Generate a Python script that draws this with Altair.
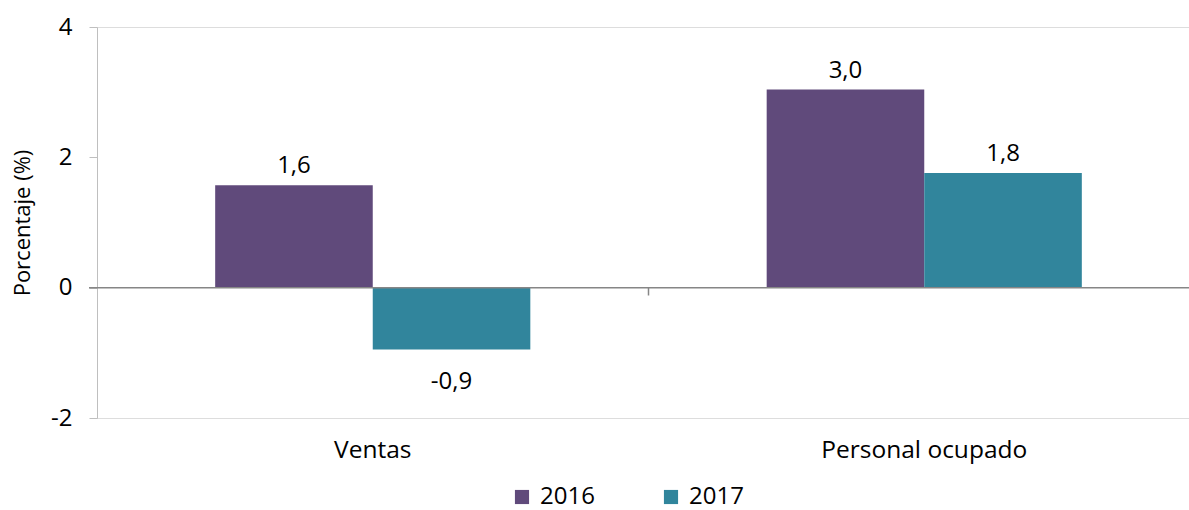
import altair as alt
import pandas as pd

categories = ["Ventas", "Ventas", "Personal ocupado", "Personal ocupado"]
years = ["2016", "2017", "2016", "2017"]
values = [1.57, -0.95, 3.04, 1.76]
labels = ["1,6", "-0,9", "3,0", "1,8"]
cat_order = ["Ventas", "Personal ocupado"]
y_ticks = [-2, 0, 2, 4]

df = pd.DataFrame({"cat": categories, "year": years, "value": values, "label": labels})
df["pos"] = df["value"] >= 0

FONT = "Open Sans"
FS = 24

xenc = alt.X("cat:N", sort=cat_order, title=None,
             scale=alt.Scale(domain=cat_order, range=[0, 1103], paddingInner=0, paddingOuter=0),
             axis=alt.Axis(domain=False, ticks=False, labelAngle=0, labelFontSize=24.5,
                           labelFont=FONT, labelColor="#000000", labelPadding=20, labelLimit=0))
yscale = alt.Scale(domain=[-2, 4], nice=False, zero=False)
yenc = alt.Y("value:Q", scale=yscale, title="Porcentaje (%)",
             axis=alt.Axis(values=y_ticks, grid=False, domainColor="#BFBFBF",
                           labelExpr="datum.value < 0 ? '-' + format(-datum.value, 'd') : format(datum.value, 'd')",
                           tickColor="#BFBFBF", tickSize=8, labelFontSize=FS, labelFont=FONT,
                           labelColor="#000000", labelPadding=17, titleFontSize=22,
                           titleFont=FONT, titleFontWeight="normal", titleColor="#000000",
                           titlePadding=16))
xoff = alt.XOffset("year:N", scale=alt.Scale(paddingInner=0, paddingOuter=0.75))

base = alt.Chart(df)

bars = base.mark_bar().encode(
    x=xenc, xOffset=xoff, y=yenc,
    color=alt.Color("year:N", scale=alt.Scale(domain=["2016", "2017"], range=["#604A7B", "#31859C"]),
                    legend=alt.Legend(title=None, orient="none", direction="horizontal",
                                      legendX=413, legendY=458, symbolType="square",
                                      symbolSize=200, symbolStrokeWidth=0, labelFontSize=FS,
                                      labelFont=FONT, labelColor="#000000", columnPadding=64,
                                      labelOffset=6)),
)

txt_pos = base.transform_filter("datum.pos").mark_text(
    baseline="bottom", dy=-7, fontSize=FS, font=FONT, color="#000000"
).encode(x=alt.X("cat:N", sort=cat_order), xOffset=xoff, y=alt.Y("value:Q", scale=yscale), text="label:N")

txt_neg = base.transform_filter("!datum.pos").mark_text(
    baseline="top", dy=20, fontSize=FS, font=FONT, color="#000000"
).encode(x=alt.X("cat:N", sort=cat_order), xOffset=xoff, y=alt.Y("value:Q", scale=yscale), text="label:N")

zero = alt.Chart(pd.DataFrame({"z": [0]})).mark_rule(color="#868686", strokeWidth=1.5).encode(
    y=alt.Y("z:Q", scale=yscale), x=alt.value(-8), x2=alt.value(1092))

boundary = alt.Chart(pd.DataFrame({"cat": ["Personal ocupado"], "a": [0], "b": [-0.12]})).mark_rule(
    color="#868686", strokeWidth=1.5).encode(
    x=alt.X("cat:N", sort=cat_order, bandPosition=0), y=alt.Y("a:Q", scale=yscale), y2="b:Q")

chart = alt.layer(bars, zero, boundary, txt_pos, txt_neg).properties(
    width=1092, height=391,
    autosize=alt.AutoSizeParams(type="none"),
    padding={"left": 97, "top": 27, "right": 0, "bottom": 92},
).configure_view(stroke=None).configure(font=FONT)

chart.save("out.html", embed_options={"renderer": "svg", "actions": False})
